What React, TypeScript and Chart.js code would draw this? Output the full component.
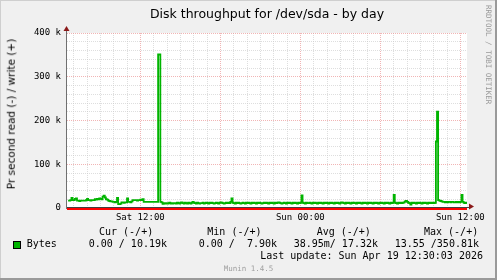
import React, { useEffect, useRef } from "react";
import { Chart, registerables } from "chart.js";

Chart.register(...registerables);

// Time axis is in minutes after Sat 00:00; one write sample every 5 minutes.
const startMinute = 390; // Sat 06:30
const endMinute = 2190; // Sun 12:30
const sampleStep = 5;

// Write throughput (+) in kilobytes per second, one row per hour.
const writeKB: number[] = [
  17, 17, 18, 23, 18, 18, 21, 22, 17, 17, 16, 17,
  17, 17, 17, 17, 18, 21, 18, 18, 17, 18, 18, 18,
  20, 19, 21, 20, 22, 21, 20, 26, 28, 24, 20, 19,
  17, 16, 15, 15, 14, 14, 13, 14, 23, 9, 9, 10,
  13, 13, 12, 13, 13, 22, 14, 14, 13, 15, 18, 18,
  18, 18, 17, 18, 18, 19, 18, 20, 14, 14, 14, 14,
  14, 14, 14, 14, 14, 14, 14, 14, 14, 350.81, 350.81, 14,
  13, 9.5, 11, 10, 11, 10, 11, 12, 10, 11, 10, 11,
  11, 10, 12, 11, 10, 12, 13, 11, 10, 12, 11, 10,
  12, 11, 10, 12, 14, 12, 11, 10, 12, 11, 10, 11,
  11, 12, 10, 11, 12, 11, 10, 12, 11, 12, 11, 10,
  11, 12, 11, 10, 12, 13, 12, 11, 10, 11, 12, 11,
  12, 11, 14, 22, 12, 11, 10, 12, 11, 12, 11, 10,
  11, 12, 11, 10, 12, 11, 12, 11, 10, 12, 11, 12,
  11, 10, 12, 11, 12, 11, 10, 11, 12, 11, 12, 11,
  10, 12, 11, 12, 11, 10, 12, 11, 12, 13, 12, 11,
  10, 11, 12, 11, 10, 12, 11, 12, 11, 10, 12, 11,
  12, 11, 10, 12, 11, 12, 29, 12, 11, 10, 12, 11,
  11, 12, 11, 10, 12, 11, 12, 11, 10, 12, 11, 12,
  11, 10, 12, 11, 12, 11, 10, 12, 11, 12, 11, 10,
  12, 11, 12, 11, 10, 12, 13, 12, 11, 10, 12, 11,
  12, 11, 10, 12, 11, 12, 11, 10, 12, 11, 12, 11,
  10, 12, 11, 12, 11, 10, 12, 11, 12, 11, 10, 12,
  11, 12, 11, 10, 12, 11, 12, 11, 10, 12, 11, 12,
  11, 10, 12, 11, 12, 30, 12, 11, 10, 12, 11, 12,
  11, 12, 13, 15, 16, 14, 12, 11, 7.9, 12, 11, 12,
  11, 10, 12, 11, 12, 11, 10, 12, 11, 12, 11, 10,
  12, 11, 12, 11, 12, 11, 12, 152, 220, 18, 17, 16,
  15, 14, 14, 13, 14, 13, 14, 14, 13, 14, 14, 13,
  13, 14, 13, 14, 13, 14, 30, 14, 12, 11, 12, 10.19,
];

const yTickValues = [0, 100, 200, 300, 400];
const yTickLabels = ["0", "100 k", "200 k", "300 k", "400 k"];
const xTickMinutes = [720, 1440, 2160];
const xTickLabels = ["Sat 12:00", "Sun 00:00", "Sun 12:00"];

const chartTitle = "Disk throughput for /dev/sda - by day";
const yAxisTitle = "Pr second read (-) / write (+)";
const seriesName = "Bytes";
const legendHeaders = ["Cur (-/+)", "Min (-/+)", "Avg (-/+)", "Max (-/+)"];
const legendValues = ["0.00 / 10.19k", "0.00 /  7.90k", "38.95m/ 17.32k", "13.55 /350.81k"];
const lastUpdate = "Last update: Sun Apr 19 12:30:03 2026";
const footer = "Munin 1.4.5";
const watermark = "RRDTOOL / TOBI OETIKER";

const SERIES_COLOR = "#00b400";
const MINOR_GRID = "rgba(200,200,200,0.6)";
const MAJOR_GRID = "rgba(235,150,150,0.7)";
const MONO = "'DejaVu Sans Mono', monospace";
const SANS = "'DejaVu Sans', sans-serif";

// Canvas background, white plot area and the bevelled frame.
const backdrop = {
  id: "backdrop",
  beforeDraw(chart: Chart) {
    const { ctx, width, height, chartArea } = chart;
    ctx.save();
    ctx.fillStyle = "#f0f0f0";
    ctx.fillRect(0, 0, width, height);
    ctx.fillStyle = "#ffffff";
    ctx.fillRect(chartArea.left, chartArea.top, chartArea.right - chartArea.left, chartArea.bottom - chartArea.top);
    ctx.fillStyle = "#cfcfcf";
    ctx.fillRect(0, 0, width, 1);
    ctx.fillRect(0, 0, 1, height);
    ctx.fillStyle = "#9a9a9a";
    ctx.fillRect(width - 2, 0, 2, height);
    ctx.fillRect(0, height - 2, width, 2);
    ctx.restore();
  },
};

// Zero rule, axis lines and their arrow heads.
const axes = {
  id: "axes",
  afterDatasetsDraw(chart: Chart) {
    const { ctx, chartArea } = chart;
    const y0 = chart.scales.y.getPixelForValue(0);
    const left = chartArea.left;
    const right = chartArea.right;
    ctx.save();
    ctx.fillStyle = "#ff0000";
    ctx.fillRect(left, Math.round(y0), right - left, 2);
    ctx.fillStyle = "#404040";
    ctx.fillRect(left - 1, Math.round(y0) - 1, right - left + 3, 1);
    ctx.fillStyle = "#707070";
    ctx.fillRect(left - 1, chartArea.top - 3, 1, y0 - chartArea.top + 4);
    ctx.fillStyle = "#8b1a1a";
    ctx.beginPath();
    ctx.moveTo(left - 0.5, chartArea.top - 7);
    ctx.lineTo(left - 3.5, chartArea.top - 2);
    ctx.lineTo(left + 2.5, chartArea.top - 2);
    ctx.closePath();
    ctx.fill();
    ctx.beginPath();
    ctx.moveTo(right + 7, y0 - 1.5);
    ctx.lineTo(right + 2, y0 - 4.5);
    ctx.lineTo(right + 2, y0 + 1.5);
    ctx.closePath();
    ctx.fill();
    ctx.restore();
  },
};

function hourTicks() {
  const ticks: { value: number }[] = [];
  for (let m = Math.ceil(startMinute / 60) * 60; m <= endMinute; m += 60) ticks.push({ value: m });
  return ticks;
}

function kTicks() {
  const ticks: { value: number }[] = [];
  for (let v = 0; v <= 400; v += 20) ticks.push({ value: v });
  return ticks;
}

const text = (extra: React.CSSProperties): React.CSSProperties => ({
  position: "absolute",
  whiteSpace: "pre",
  lineHeight: 1,
  color: "#000",
  ...extra,
});

export default function App() {
  const canvasRef = useRef<HTMLCanvasElement>(null);

  useEffect(() => {
    document.body.style.margin = "0";
    const canvas = canvasRef.current;
    if (!canvas) return;
    const chart = new Chart(canvas, {
      type: "line",
      data: {
        datasets: [
          {
            label: seriesName,
            data: writeKB.map((v, i) => ({ x: startMinute + (i + 1) * sampleStep, y: v })),
            borderColor: SERIES_COLOR,
            borderWidth: 1.8,
            pointRadius: 0,
            stepped: "before",
            fill: false,
          },
        ],
      },
      options: {
        responsive: false,
        animation: false,
        events: [],
        layout: { padding: { left: 0, top: 33, right: 30, bottom: 52 } },
        plugins: {
          legend: { display: false },
          title: { display: false },
          tooltip: { enabled: false },
        },
        scales: {
          x: {
            type: "linear",
            min: startMinute,
            max: endMinute,
            afterBuildTicks: (s: any) => {
              s.ticks = hourTicks();
            },
            afterFit: (s: any) => {
              s.height = 20;
            },
            grid: {
              color: (c: any) => (c.tick && c.tick.value % 360 === 0 ? MAJOR_GRID : MINOR_GRID),
              lineWidth: 1,
              drawTicks: false,
            },
            border: { display: false, dash: [1, 1] },
            ticks: {
              autoSkip: false,
              maxRotation: 0,
              padding: 4,
              color: "#000",
              font: { family: MONO, size: 9 },
              callback: (v: any) => {
                const k = xTickMinutes.indexOf(Number(v));
                return k >= 0 ? xTickLabels[k] : "";
              },
            },
          },
          y: {
            type: "linear",
            min: 0,
            max: 400,
            afterBuildTicks: (s: any) => {
              s.ticks = kTicks();
            },
            afterFit: (s: any) => {
              s.width = 67;
            },
            grid: {
              color: (c: any) => (c.tick && c.tick.value % 100 === 0 ? MAJOR_GRID : MINOR_GRID),
              lineWidth: 1,
              drawTicks: false,
            },
            border: { display: false, dash: [1, 1] },
            ticks: {
              autoSkip: false,
              padding: 6,
              color: "#000",
              font: { family: MONO, size: 9 },
              callback: (v: any) => {
                const k = yTickValues.indexOf(Number(v));
                return k >= 0 ? yTickLabels[k] : "";
              },
            },
          },
        },
      },
      plugins: [backdrop, axes],
    });
    return () => chart.destroy();
  }, []);

  const mono10 = { fontFamily: MONO, fontSize: 10 };

  return (
    <div style={{ position: "relative", width: 497, height: 280, overflow: "hidden" }}>
      <canvas ref={canvasRef} width={497} height={280} style={{ position: "absolute", left: 0, top: 0 }} />
      <div style={text({ left: 267, top: 7.7, transform: "translateX(-50%)", fontFamily: SANS, fontSize: 12.5 })}>
        {chartTitle}
      </div>
      <div
        style={text({
          left: 11,
          top: 114,
          transform: "translate(-50%, -50%) rotate(-90deg)",
          fontFamily: SANS,
          fontSize: 10.5,
        })}
      >
        {yAxisTitle}
      </div>
      <div
        style={text({
          left: 484,
          top: 5,
          writingMode: "vertical-rl",
          fontFamily: MONO,
          fontSize: 7.5,
          color: "#999999",
        })}
      >
        {watermark}
      </div>
      {legendHeaders.map((h, i) => (
        <div key={h} style={text({ left: [99, 207.3, 316.7, 424][i], top: 227, ...mono10 })}>
          {h}
        </div>
      ))}
      <div
        style={{
          position: "absolute",
          left: 13,
          top: 241,
          width: 6,
          height: 6,
          background: SERIES_COLOR,
          border: "1px solid #000",
        }}
      />
      <div style={text({ left: 26.7, top: 238.5, ...mono10 })}>{seriesName}</div>
      {legendValues.map((v, i) => (
        <div key={i} style={text({ right: 497 - [167, 277, 378, 479][i], top: 238.5, ...mono10 })}>
          {v}
        </div>
      ))}
      <div style={text({ right: 14, top: 251, ...mono10 })}>{lastUpdate}</div>
      <div
        style={text({ left: 248.5, top: 265, transform: "translateX(-50%)", fontFamily: MONO, fontSize: 7.5, color: "#a0a0a0" })}
      >
        {footer}
      </div>
    </div>
  );
}
